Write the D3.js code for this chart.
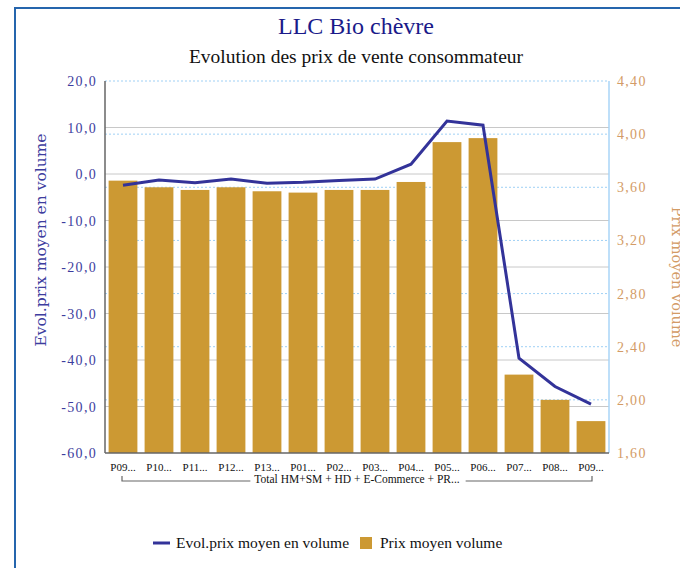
<!DOCTYPE html>
<html>
<head>
<meta charset="utf-8">
<script src="https://d3js.org/d3.v7.min.js"></script>
<style>
body { margin: 0; background: white; }
svg { display: block; }
</style>
</head>
<body>
<svg width="680" height="568"></svg>
<script>
// data
const periods = ["P09...", "P10...", "P11...", "P12...", "P13...", "P01...", "P02...", "P03...", "P04...", "P05...", "P06...", "P07...", "P08...", "P09..."];
const prixMoyen = [3.65, 3.60, 3.58, 3.60, 3.57, 3.56, 3.58, 3.58, 3.64, 3.94, 3.97, 2.19, 2.00, 1.84];
const evolPrix = [-2.4, -1.3, -1.9, -1.1, -2.0, -1.8, -1.4, -1.1, 2.1, 11.4, 10.5, -39.6, -45.7, -49.5];
const leftTicks = [20, 10, 0, -10, -20, -30, -40, -50, -60];
const rightTicks = [4.4, 4.0, 3.6, 3.2, 2.8, 2.4, 2.0, 1.6];
const groupLabel = "Total HM+SM + HD + E-Commerce + PR...";

const svg = d3.select("svg");
const serif = "'Liberation Serif', 'Times New Roman', serif";
const wideSerif = "'DejaVu Serif', serif";

// frame
svg.append("rect")
    .attr("x", 15).attr("y", 8)
    .attr("width", 700).attr("height", 600)
    .attr("fill", "none")
    .attr("stroke", "#2565ad")
    .attr("stroke-width", 2);

// titles
svg.append("text")
    .attr("x", 356).attr("y", 34)
    .attr("text-anchor", "middle")
    .style("font-family", serif)
    .style("font-size", "24px")
    .style("fill", "#1a1a8a")
    .text("LLC Bio chèvre");

svg.append("text")
    .attr("x", 356).attr("y", 63)
    .attr("text-anchor", "middle")
    .style("font-family", serif)
    .style("font-size", "19.5px")
    .style("fill", "#111")
    .text("Evolution des prix de vente consommateur");

const pLeft = 105, pRight = 609, pTop = 81, pBottom = 453;

const x = d3.scaleBand()
    .domain(d3.range(periods.length))
    .range([pLeft, pRight])
    .paddingInner(0.2)
    .paddingOuter(0.1);

const yL = d3.scaleLinear().domain([-60, 20]).range([pBottom, pTop]);
const yR = d3.scaleLinear().domain([1.6, 4.4]).range([pBottom, pTop]);

// grid lines
svg.append("g")
    .selectAll("line")
    .data(leftTicks.slice(1, -1))
    .join("line")
    .attr("x1", pLeft).attr("x2", pRight)
    .attr("y1", d => yL(d)).attr("y2", d => yL(d))
    .attr("stroke", "#c8c8c8")
    .attr("stroke-width", 1);

svg.append("g")
    .selectAll("line")
    .data(rightTicks.slice(0, -1))
    .join("line")
    .attr("x1", pLeft).attr("x2", pRight)
    .attr("y1", d => yR(d)).attr("y2", d => yR(d))
    .attr("stroke", "#9fd0f5")
    .attr("stroke-width", 1)
    .attr("stroke-dasharray", "2,2");

// bars
svg.append("g")
    .selectAll("rect")
    .data(prixMoyen)
    .join("rect")
    .attr("x", (d, i) => x(i))
    .attr("width", x.bandwidth())
    .attr("y", d => yR(d))
    .attr("height", d => pBottom - yR(d))
    .attr("fill", "#cc9933");

// line
const line = d3.line()
    .x((d, i) => x(i) + x.bandwidth() / 2)
    .y(d => yL(d));

svg.append("path")
    .datum(evolPrix)
    .attr("d", line)
    .attr("fill", "none")
    .attr("stroke", "#333399")
    .attr("stroke-width", 3);

// axes lines
svg.append("line")
    .attr("x1", pRight).attr("x2", pRight)
    .attr("y1", pTop).attr("y2", pBottom)
    .attr("stroke", "#a8d4f7").attr("stroke-width", 1.5);
svg.append("line")
    .attr("x1", pLeft).attr("x2", pLeft)
    .attr("y1", pTop).attr("y2", pBottom)
    .attr("stroke", "#666").attr("stroke-width", 1.5);
svg.append("line")
    .attr("x1", pLeft).attr("x2", pRight)
    .attr("y1", pBottom).attr("y2", pBottom)
    .attr("stroke", "#666").attr("stroke-width", 1.5);

// left axis labels
const fmt1 = d3.format(".1f");
svg.append("g")
    .selectAll("text")
    .data(leftTicks)
    .join("text")
    .attr("x", 97)
    .attr("y", d => yL(d) + 5)
    .attr("text-anchor", "end")
    .style("font-family", serif)
    .style("font-size", "14px")
    .style("letter-spacing", "1.3px")
    .style("fill", "#3d3d9e")
    .text(d => fmt1(d).replace(".", ",").replace("−", "-"));

// right axis labels
const fmt2 = d3.format(".2f");
svg.append("g")
    .selectAll("text")
    .data(rightTicks)
    .join("text")
    .attr("x", 617)
    .attr("y", d => yR(d) + 5)
    .attr("text-anchor", "start")
    .style("font-family", serif)
    .style("font-size", "14px")
    .style("letter-spacing", "1.3px")
    .style("fill", "#d39b66")
    .text(d => fmt2(d).replace(".", ","));

// axis titles
svg.append("text")
    .attr("transform", "translate(46,240) rotate(-90)")
    .attr("text-anchor", "middle")
    .style("font-family", wideSerif)
    .style("font-size", "15.5px")
    .style("fill", "#3d3d9e")
    .text("Evol.prix moyen en volume");

svg.append("text")
    .attr("transform", "translate(672,277) rotate(90)")
    .attr("text-anchor", "middle")
    .style("font-family", wideSerif)
    .style("font-size", "14.5px")
    .style("fill", "#d39b66")
    .text("Prix moyen volume");

// category labels
svg.append("g")
    .selectAll("text")
    .data(periods)
    .join("text")
    .attr("x", (d, i) => x(i) + x.bandwidth() / 2)
    .attr("y", 471)
    .attr("text-anchor", "middle")
    .style("font-family", serif)
    .style("font-size", "11px")
    .style("fill", "#111")
    .text(d => d);

// group bracket
const gx1 = x(0) + x.bandwidth() / 2 - 1, gx2 = x(periods.length - 1) + x.bandwidth() / 2 + 1;
const gMid = (gx1 + gx2) / 2;
const groupText = svg.append("text")
    .attr("x", gMid).attr("y", 483)
    .attr("text-anchor", "middle")
    .style("font-family", serif)
    .style("font-size", "11.5px")
    .style("fill", "#111")
    .text(groupLabel);
const tw = groupText.node().getComputedTextLength();
svg.append("path")
    .attr("d", `M${gx1},476V481H${gMid - tw / 2 - 4}M${gMid + tw / 2 + 6},481H${gx2}V476`)
    .attr("fill", "none")
    .attr("stroke", "#666")
    .attr("stroke-width", 1.2);

// legend
svg.append("line")
    .attr("x1", 153).attr("x2", 170)
    .attr("y1", 543).attr("y2", 543)
    .attr("stroke", "#333399").attr("stroke-width", 3);
svg.append("text")
    .attr("x", 176).attr("y", 548)
    .style("font-family", serif)
    .style("font-size", "15.5px")
    .style("fill", "#111")
    .text("Evol.prix moyen en volume");
svg.append("rect")
    .attr("x", 360).attr("y", 537)
    .attr("width", 12).attr("height", 12)
    .attr("fill", "#cc9933");
svg.append("text")
    .attr("x", 380).attr("y", 548)
    .style("font-family", serif)
    .style("font-size", "15.5px")
    .style("fill", "#111")
    .text("Prix moyen volume");
</script>
</body>
</html>
